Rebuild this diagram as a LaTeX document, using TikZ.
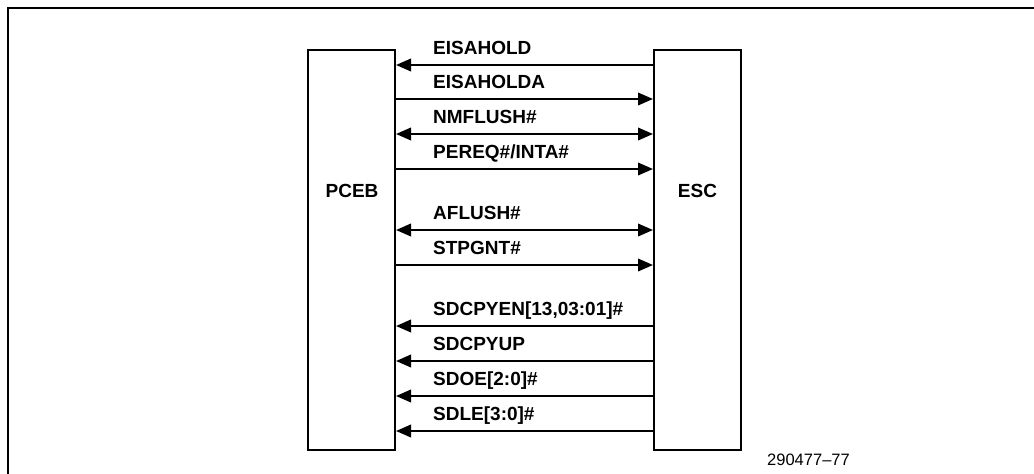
\documentclass[tikz,border=0pt]{standalone}
\usepackage{fontspec}
\setmainfont{Liberation Sans}
\usetikzlibrary{arrows.meta,positioning}

\tikzset{
  sig/.style={line width=2pt},
  chip/.style={draw, line width=2pt, minimum width=87pt, minimum height=400pt, inner sep=0pt},
  chiplabel/.style={font=\fontsize{19}{22}\selectfont\bfseries, inner sep=0pt},
  siglabel/.style={anchor=base west, font=\fontsize{19}{22}\selectfont\bfseries, inner sep=0pt},
  fromesc/.style={<-},
  toesc/.style={->},
  bothway/.style={<->}
}

\begin{document}
\begin{tikzpicture}[x=1pt,y=-1pt,>={Triangle[length=15pt,width=12.5pt]}]

    \useasboundingbox (0,0) rectangle (1034,474);

    % =========================
    % frame
    % =========================
    \draw[line width=2pt] (8,474) -- (8,8) -- (1034,8);

    % =========================
    % the two chips
    % =========================
    \node[chip] (pceb) at (351.5,250) {};
    \node[chip] (esc) at (697.5,250) {};
    \node[chiplabel] (pceblbl) at (352,190.5) {PCEB};
    \node[chiplabel] (esclbl) at (697.5,190.5) {ESC};

    % =========================
    % signals between PCEB and ESC
    % =========================
    \foreach \y/\txt/\dir in {65/EISAHOLD/fromesc, 99/EISAHOLDA/toesc,
        134/NMFLUSH\#/bothway, 169/{PEREQ\#/INTA\#}/toesc,
        230/AFLUSH\#/bothway, 265/STPGNT\#/toesc,
        326/{SDCPYEN[13,03:01]\#}/fromesc, 361/SDCPYUP/fromesc,
        396/{SDOE[2:0]\#}/fromesc, 431/{SDLE[3:0]\#}/fromesc}{
        \draw[sig,\dir] (pceb.east |- 0,\y) -- (esc.west |- 0,\y);
        \node[siglabel] (lbl\y) at (433,\y-11) {\txt};
    }

    % figure number
    \node[anchor=base west, font=\fontsize{16.5}{19}\selectfont, inner sep=0pt] (fignum) at (767,465) {290477–77};

\end{tikzpicture}
\end{document}
